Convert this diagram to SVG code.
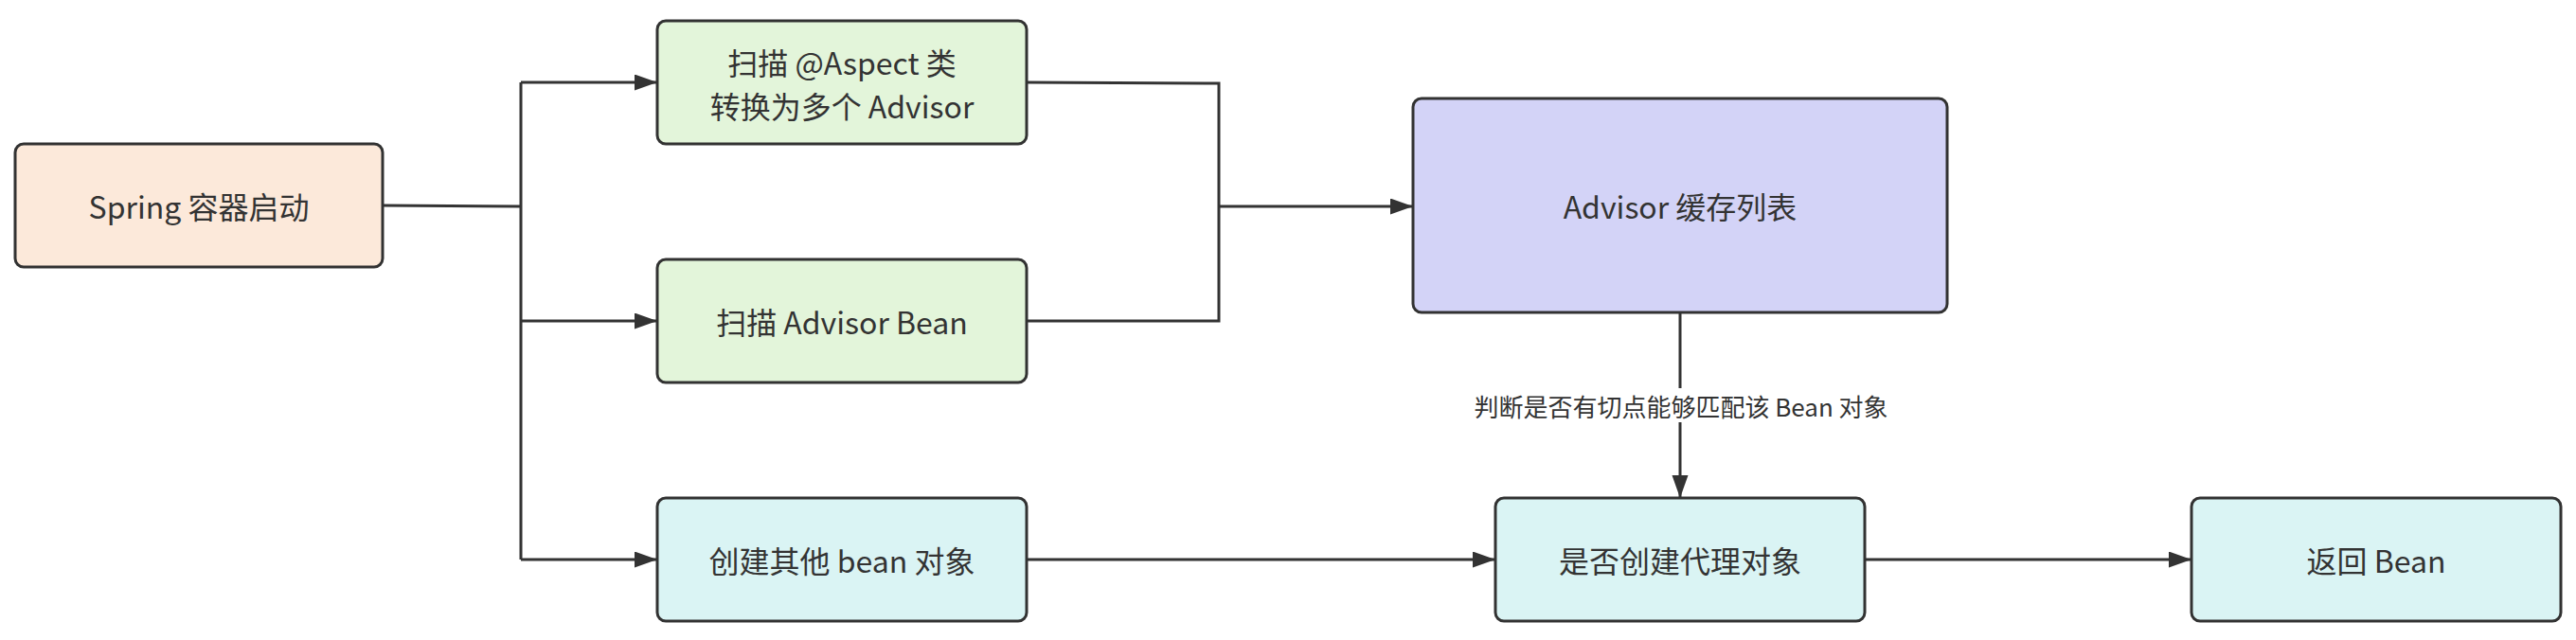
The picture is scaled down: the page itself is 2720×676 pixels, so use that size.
<svg xmlns="http://www.w3.org/2000/svg" width="2720" height="676" viewBox="0 0 2720 676">
<style>
.node rect{stroke:#323232;stroke-width:3}
.node text,.lbl{font-family:"Noto Sans CJK SC","Noto Sans",sans-serif;fill:#333333;text-anchor:middle;dominant-baseline:central}
.node text{font-size:32px}
.lbl{font-size:26px}
.edge{fill:none;stroke:#333333;stroke-width:3}
.peach{fill:#fce9da}
.green{fill:#e3f5da}
.violet{fill:#d3d3f7}
.cyan{fill:#daf4f4}
</style>
<defs>
<marker id="arr" markerUnits="userSpaceOnUse" markerWidth="26" markerHeight="18" refX="24" refY="8.5" orient="auto">
<path d="M0,0 L24,8.5 L0,17 z" fill="#333333"/>
</marker>
</defs>
<rect width="2720" height="676" fill="#ffffff"/>
<g id="connectors">
<path class="edge" d="M404,217 L550,218"/>
<path class="edge" d="M550,87 L550,591"/>
<path class="edge" d="M550,87 L694,87" marker-end="url(#arr)"/>
<path class="edge" d="M550,339 L694,339" marker-end="url(#arr)"/>
<path class="edge" d="M550,591 L694,591" marker-end="url(#arr)"/>
<path class="edge" d="M1084,87 L1287,88 L1287,339 L1084,339"/>
<path class="edge" d="M1287,218 L1492,218" marker-end="url(#arr)"/>
<path class="edge" d="M1774,330 L1774,526" marker-end="url(#arr)"/>
<path class="edge" d="M1084,591 L1579,591" marker-end="url(#arr)"/>
<path class="edge" d="M1969,591 L2314,591" marker-end="url(#arr)"/>
<rect x="1553" y="410" width="444" height="36" fill="#ffffff"/>
<text class="lbl" x="1775" y="428">判断是否有切点能够匹配该 Bean 对象</text>
</g>
<g id="spring" class="node">
<rect class="peach" x="16" y="152" width="388" height="130" rx="9"/>
<text x="210" y="217">Spring 容器启动</text>
</g>
<g id="scan-aspect" class="node">
<rect class="green" x="694" y="22" width="390" height="130" rx="9"/>
<text x="889" y="65">扫描 @Aspect 类</text>
<text x="889" y="111">转换为多个 Advisor</text>
</g>
<g id="scan-advisor" class="node">
<rect class="green" x="694" y="274" width="390" height="130" rx="9"/>
<text x="889" y="339">扫描 Advisor Bean</text>
</g>
<g id="create-bean" class="node">
<rect class="cyan" x="694" y="526" width="390" height="130" rx="9"/>
<text x="889" y="591">创建其他 bean 对象</text>
</g>
<g id="advisor-cache" class="node">
<rect class="violet" x="1492" y="104" width="564" height="226" rx="9"/>
<text x="1774" y="217">Advisor 缓存列表</text>
</g>
<g id="proxy-decision" class="node">
<rect class="cyan" x="1579" y="526" width="390" height="130" rx="9"/>
<text x="1774" y="591">是否创建代理对象</text>
</g>
<g id="return-bean" class="node">
<rect class="cyan" x="2314" y="526" width="390" height="130" rx="9"/>
<text x="2509" y="591">返回 Bean</text>
</g>
</svg>
